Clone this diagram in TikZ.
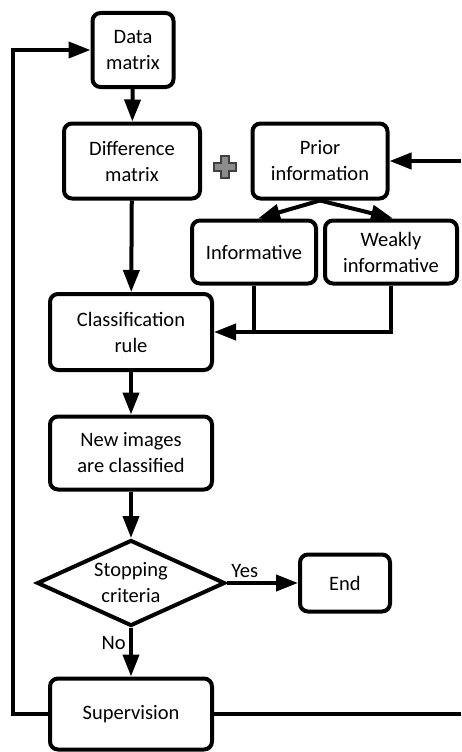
\documentclass[tikz,border=0pt]{standalone}
\usepackage{fontspec}
\setmainfont{Carlito}
\usetikzlibrary{arrows.meta,shapes.geometric}
\begin{document}
\begin{tikzpicture}[x=1pt,y=-1pt]
        \tikzset{box/.style = {shape=rectangle,draw,line width=4pt,rounded corners=8pt,align=center,inner sep=2pt,font=\fontsize{20.5}{26}\selectfont}}
        \tikzset{decision/.style = {shape=diamond,draw,line width=4pt,align=center,aspect=2.2,inner sep=0pt,font=\fontsize{20.5}{26}\selectfont}}
        \tikzset{flow/.style = {line width=4pt,-{Triangle[length=22pt,width=16pt]}}}
        \tikzset{wire/.style = {line width=4pt}}
        \tikzset{tag/.style = {font=\fontsize{20.5}{24}\selectfont}}
        \useasboundingbox (0,0) rectangle (461,752);
        % boxes on the main column
        \node[box,minimum width=81pt,minimum height=74pt] (data) at (133,50) {Data\\matrix};
        \node[box,minimum width=136pt,minimum height=75pt] (diff) at (132,161) {Difference\\matrix};
        \node[box,minimum width=162pt,minimum height=76pt] (class) at (131,332) {Classification\\rule};
        \node[box,minimum width=162pt,minimum height=73pt] (newimg) at (131,453) {New images\\are classified};
        \node[decision,minimum width=188pt,minimum height=86pt] (stop) at (131,583) {Stopping\\criteria};
        \node[box,minimum width=162pt,minimum height=71pt] (superv) at (131,714) {Supervision};
        % boxes on the right
        \node[box,minimum width=135pt,minimum height=75pt] (prior) at (320,161) {Prior\\information};
        \node[box,minimum width=124pt,minimum height=63pt] (info) at (254,252) {Informative};
        \node[box,minimum width=132pt,minimum height=63pt] (weak) at (391,252) {Weakly\\informative};
        \node[box,minimum width=90pt,minimum height=57pt] (end) at (345,583) {End};
        % plus sign between the two matrices
        \draw[line width=1.3pt,draw=black!75,fill=black!45]
          (221,156) -- (229,156) -- (229,163) -- (236,163) -- (236,171) -- (229,171)
          -- (229,178) -- (221,178) -- (221,171) -- (214,171) -- (214,163) -- (221,163) -- cycle;
        % free ends of the loops
        \coordinate (rin) at (461,161);
        \coordinate (rout) at (461,714);
        \coordinate (lft) at (13,714);
        % arrows
        \draw[flow] (data) -- (diff);
        \draw[flow] (diff) -- (class);
        \draw[flow] (rin) -- (prior);
        \draw[flow] (prior.south) -- ([xshift=4pt]info.north);
        \draw[flow] (prior.south) -- ([xshift=2pt]weak.north);
        \draw[wire] (info.south) -- (info.south |- class.east);
        \draw[flow] (weak.south) |- (class.east);
        \draw[flow] (class) -- (newimg);
        \draw[flow] (newimg) -- (stop);
        \draw[flow] (stop) -- node[above,tag,pos=0.25] {Yes} (end);
        \draw[flow] (stop) -- node[left,tag,pos=0.3] {No} (superv);
        \draw[wire] (superv) -- (rout);
        \draw[flow] (superv) -- (lft) |- (data);
\end{tikzpicture}
\end{document}
